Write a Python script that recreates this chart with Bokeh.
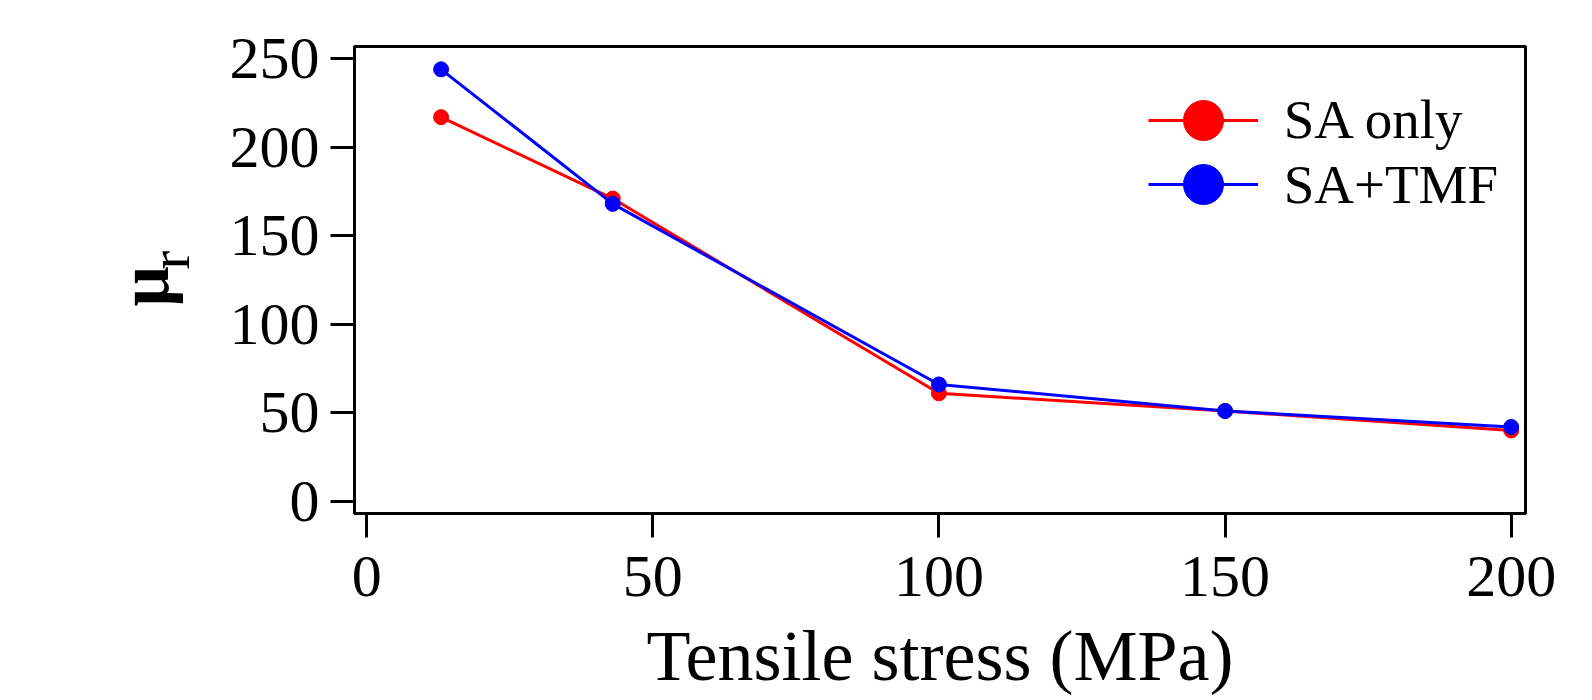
import math
from bokeh.plotting import figure
from bokeh.layouts import row
from bokeh.models import Range1d, FixedTicker, Legend, LegendItem, Label
from bokeh.embed import file_html
from bokeh.resources import INLINE

# ---- data ----
stress = [13, 43, 100, 150, 200]
sa_only = [217, 171, 61, 51, 40]
sa_tmf = [244, 168, 66, 51, 42]
x_ticks = [0, 50, 100, 150, 200]
y_ticks = [0, 50, 100, 150, 200, 250]
series_names = ["SA only", "SA+TMF"]
x_label = "Tensile stress (MPa)"
y_label_main = "μ"
y_label_sub = "r"

FONT = "Liberation Serif"
X0, X1 = -2.13, 202.5
Y0, Y1 = -6.9, 256.9
LEFT_W = 210
H = 700
FRAME_TOP, FRAME_BOTTOM = 46, 513

# ---- narrow left panel carrying the rotated y-axis title (mu with subscript r) ----
# its frame is aligned with the main frame by the row layout; ranges are in pixels
lab = figure(width=LEFT_W, height=H, output_backend="svg", toolbar_location=None,
             x_range=Range1d(0, LEFT_W), y_range=Range1d(FRAME_BOTTOM, FRAME_TOP),
             min_border=0, x_axis_location=None, y_axis_location=None)
lab.outline_line_color = None
lab.grid.visible = False
lab.background_fill_color = "white"
lab.border_fill_color = "white"
mu = Label(x=143.7, y=306, text=y_label_main, angle=math.pi / 2,
           text_font=FONT, text_font_size="71px", text_font_style="bold",
           text_align="left", text_baseline="alphabetic", text_color="black")
sub = Label(x=169, y=269, text=y_label_sub, angle=math.pi / 2,
            text_font=FONT, text_font_size="56px",
            text_align="left", text_baseline="alphabetic", text_color="black")
lab.add_layout(mu)
lab.add_layout(sub)

# ---- main chart ----
p = figure(width=1592 - LEFT_W, height=H, output_backend="svg", toolbar_location=None,
           x_range=Range1d(X0, X1), y_range=Range1d(Y0, Y1),
           min_border_left=354 - LEFT_W, min_border_right=67,
           min_border_top=FRAME_TOP, min_border_bottom=H - FRAME_BOTTOM)
p.background_fill_color = "white"
p.border_fill_color = "white"
p.grid.visible = False
p.outline_line_color = "black"
p.outline_line_width = 3

r_line = p.line(stress, sa_only, line_color="red", line_width=3)
r_pts = p.scatter(stress, sa_only, size=15, fill_color="red", line_color="red")
b_line = p.line(stress, sa_tmf, line_color="blue", line_width=3)
b_pts = p.scatter(stress, sa_tmf, size=15, fill_color="blue", line_color="blue")

for ax in (p.xaxis[0], p.yaxis[0]):
    ax.axis_line_width = 3
    ax.axis_line_color = "black"
    ax.major_tick_line_width = 3
    ax.major_tick_line_color = "black"
    ax.major_tick_out = 24
    ax.major_tick_in = 0
    ax.minor_tick_out = 0
    ax.minor_tick_in = 0
    ax.major_label_text_font = FONT
    ax.major_label_text_font_size = "60px"
    ax.major_label_text_color = "black"

p.xaxis[0].ticker = FixedTicker(ticks=x_ticks)
p.yaxis[0].ticker = FixedTicker(ticks=y_ticks)
p.xaxis[0].major_label_standoff = 19
p.yaxis[0].major_label_standoff = 11
p.xaxis[0].axis_label = x_label
p.xaxis[0].axis_label_text_font = FONT
p.xaxis[0].axis_label_text_font_size = "72px"
p.xaxis[0].axis_label_text_font_style = "normal"
p.xaxis[0].axis_label_text_color = "black"
p.xaxis[0].axis_label_standoff = 17

common = dict(glyph_width=110, glyph_height=100, spacing=0, label_standoff=26,
              padding=0, margin=0, border_line_color=None, background_fill_alpha=0,
              label_text_font=FONT, label_text_font_size="55px", label_text_color="black")
legend1 = Legend(items=[LegendItem(label=series_names[0], renderers=[r_line, r_pts])],
                 location=(1148 - 354.3, 512.7 - 169.3), **common)
legend2 = Legend(items=[LegendItem(label=series_names[1], renderers=[b_line, b_pts])],
                 location=(1148 - 354.3, 512.7 - 234.0), **common)
p.add_layout(legend1)
p.add_layout(legend2)

layout = row(lab, p, spacing=0)
open("out.html", "w").write(file_html(layout, INLINE))
